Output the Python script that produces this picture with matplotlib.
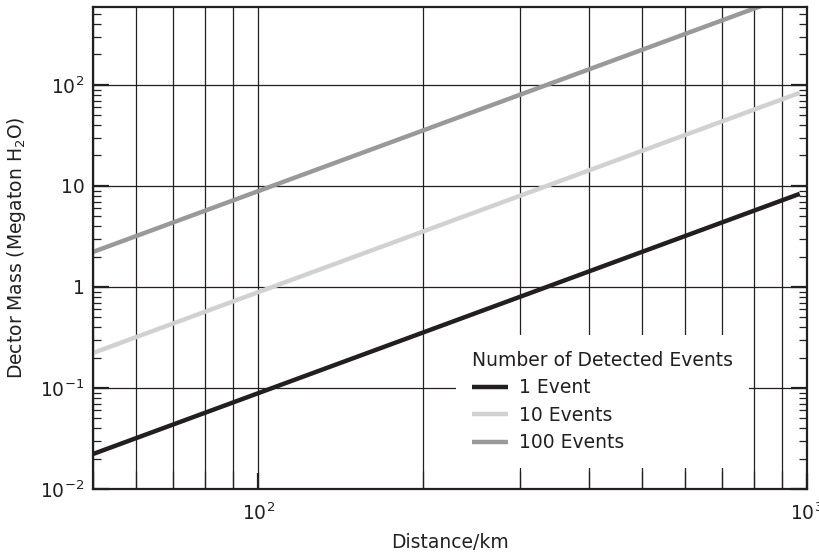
import matplotlib
matplotlib.use("Agg")
import matplotlib.pyplot as plt

# values (slope 2 on log-log)
distance_km = [50, 970]
mass_1_event = [0.0222, 8.35]
mass_10_events = [0.222, 83.5]
mass_100_events = [2.22, 835]

series_labels = ["1 Event", "10 Events", "100 Events"]
series_colors = ["#231f20", "#d1d1d1", "#999999"]

y_ticks = [0.01, 0.1, 1, 10, 100]
y_ticklabels = ["$10^{-2}$", "$10^{-1}$", "1", "10", "$10^{2}$"]
x_ticks = [100, 1000]
x_ticklabels = ["$10^{2}$", "$10^{3}$"]

ink = "#231f20"
plt.rcParams["font.family"] = "DejaVu Sans"
plt.rcParams["mathtext.default"] = "regular"

fig = plt.figure(figsize=(8.2, 5.57), dpi=100)
ax = fig.add_axes([93 / 820, 1 - 489 / 557, 714 / 820, 482 / 557])

for ys, lab, col in zip([mass_1_event, mass_10_events, mass_100_events],
                        series_labels, series_colors):
    ax.plot(distance_km, ys, color=col, lw=3.2, label=lab, solid_capstyle="butt")

ax.set_xscale("log")
ax.set_yscale("log")
ax.set_xlim(50, 1000)
ax.set_ylim(0.01, 590)

ax.set_yticks(y_ticks)
ax.set_yticklabels(y_ticklabels)
ax.set_xticks(x_ticks)
ax.set_xticklabels(x_ticklabels)

ax.grid(True, which="major", axis="both", color=ink, lw=0.9)
ax.grid(True, which="minor", axis="x", color=ink, lw=0.9)
ax.set_axisbelow(True)

ax.tick_params(axis="y", which="major", direction="in", left=True, right=True,
               length=11.5, width=1.6, colors=ink, labelsize=13.5, pad=6)
ax.tick_params(axis="y", which="minor", direction="in", left=True, right=True,
               length=5.8, width=0.9, colors=ink)
ax.tick_params(axis="x", which="major", direction="in", top=False,
               length=11.5, width=1.6, colors=ink, labelsize=13.5, pad=10)
ax.tick_params(axis="x", which="minor", direction="in", top=False,
               length=13, width=0.9, colors=ink)
ax.tick_params(axis="x", which="minor", labelbottom=False)

for s in ax.spines.values():
    s.set_linewidth(1.6)
    s.set_color(ink)

ax.set_xlabel("Distance/km", fontsize=13.5, color=ink, labelpad=6)
ax.set_ylabel("Dector Mass (Megaton H$_2$O)", fontsize=13.5, color=ink, labelpad=9)

leg = ax.legend(title="Number of Detected Events", loc="upper left",
                bbox_to_anchor=((456 - 93) / 714, (489 - 335) / 482),
                fontsize=13.5, title_fontsize=13.5, alignment="left",
                frameon=True, facecolor="white", edgecolor="none", framealpha=1,
                fancybox=False, handlelength=1.9, handletextpad=0.6,
                labelspacing=0.45, borderpad=0.85, borderaxespad=0)
for t in leg.get_texts():
    t.set_color(ink)
leg.get_title().set_color(ink)

fig.savefig("out.png", dpi=100)
